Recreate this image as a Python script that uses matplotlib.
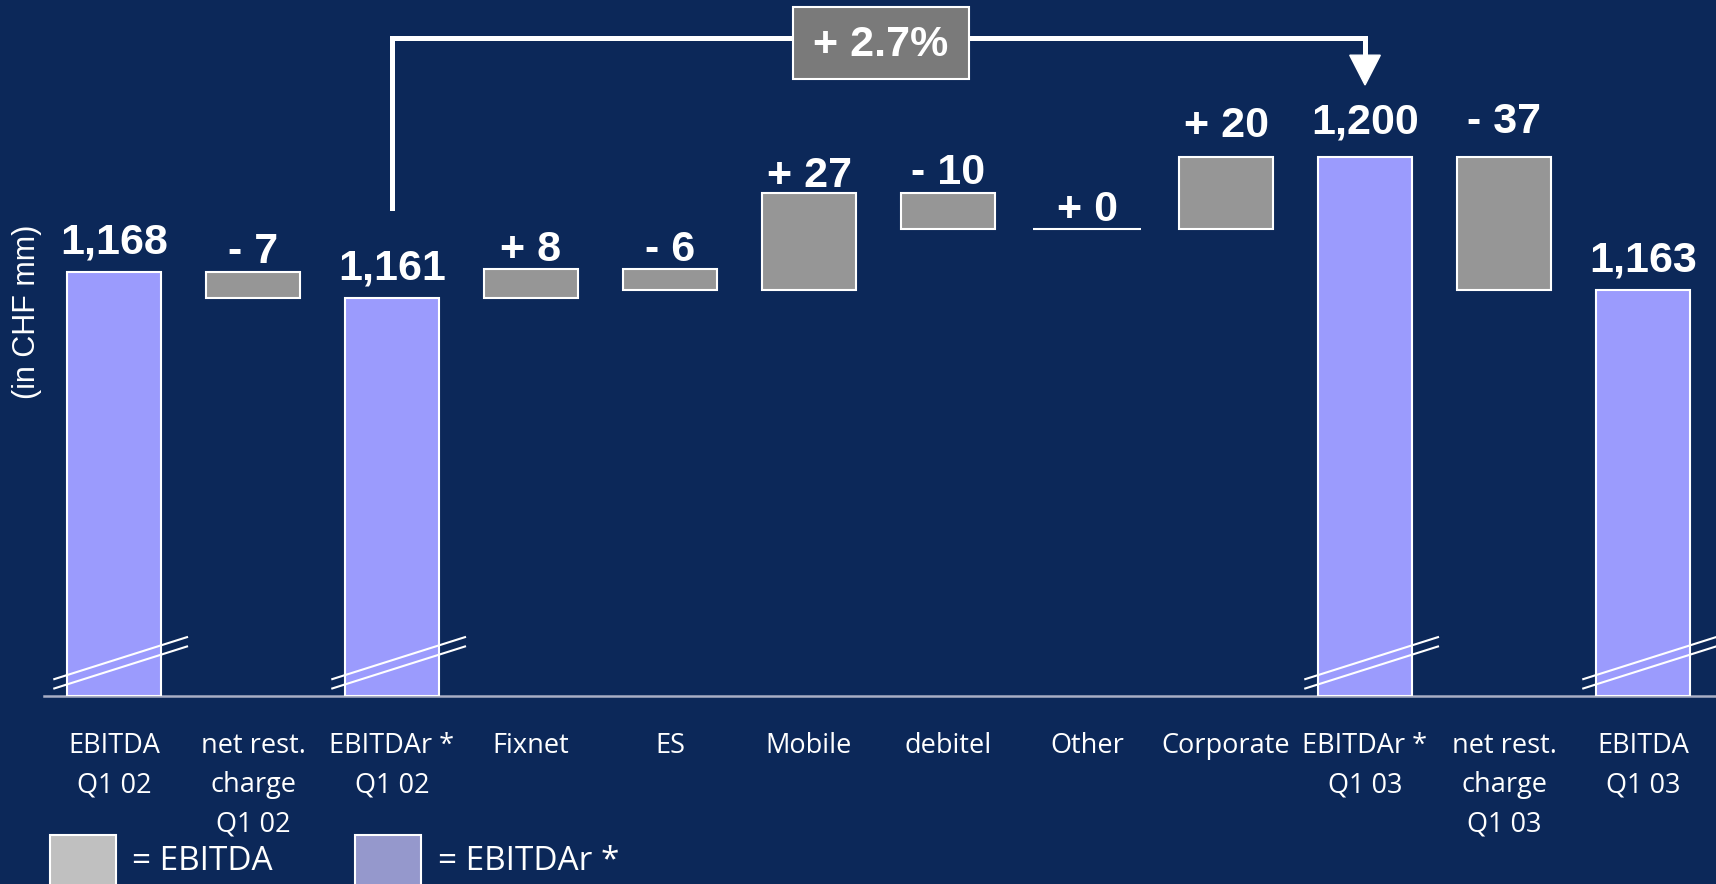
import numpy as np
import matplotlib
matplotlib.use('Agg')
import matplotlib.pyplot as plt
from matplotlib.patches import Rectangle, Polygon
from matplotlib import font_manager

# data of the waterfall (in CHF mm)
categories = ['EBITDA\nQ1 02', 'net rest.\ncharge\nQ1 02', 'EBITDAr *\nQ1 02', 'Fixnet', 'ES',
              'Mobile', 'debitel', 'Other', 'Corporate', 'EBITDAr *\nQ1 03',
              'net rest.\ncharge\nQ1 03', 'EBITDA\nQ1 03']
kinds = ['total', 'delta', 'total', 'delta', 'delta', 'delta', 'delta', 'delta', 'delta',
         'total', 'delta', 'total']
values = [1168, -7, 1161, 8, -6, 27, -10, 0, 20, 1200, -37, 1163]
growth_label = '+ 2.7%'
legend_labels = ['= EBITDA', '= EBITDAr *']

# style
bg = '#0c2859'
total_color = '#9b9bfd'
delta_color = '#969696'
box_color = '#7a7a7a'
axis_color = '#a9aec4'
y_floor = 1050          # broken axis: bars start here
label_pad_px = [19, 9, 18, 8, 8, 6, 9, 8, 20, 24, 24, 19]

names = {f.name for f in font_manager.fontManager.ttflist}
if 'Liberation Sans Narrow' in names:
    cat_font, cat_size, leg_size, cat_ls = 'Liberation Sans Narrow', 23, 26, 1.15
else:
    cat_font, cat_size, leg_size, cat_ls = 'Open Sans', 19.5, 24, 1.53

fig = plt.figure( figsize = ( 17.16, 8.84 ), dpi = 100 )
fig.patch.set_facecolor( bg )
ax = fig.add_axes( [ 44 / 1716, 188 / 884, 1672 / 1716, 696 / 884 ] )
ax.set_facecolor( bg )
ax.set_xlim( -0.504, 11.525 )
ax.set_ylim( y_floor, y_floor + 696 / 3.59 )

# waterfall bars
x = np.arange( len( values ) )
running = 0
bottoms, heights = [], []
for k, v in zip( kinds, values ):
    if k == 'total':
        bottoms.append( y_floor )
        heights.append( v - y_floor )
        running = v
    else:
        bottoms.append( min( running, running + v ) )
        heights.append( abs( v ) )
        running = running + v
bottoms = np.array( bottoms )
heights = np.array( heights )
colors = [ total_color if k == 'total' else delta_color for k in kinds ]

for i in range( len( values ) ):
    if heights[ i ] == 0:
        ax.hlines( bottoms[ i ], x[ i ] - 0.39, x[ i ] + 0.39, color = 'white', lw = 1.5, zorder = 3 )
    else:
        ax.bar( x[ i ], heights[ i ], bottom = bottoms[ i ], width = 0.67, color = colors[ i ],
                edgecolor = 'white', linewidth = 1.5, zorder = 3 )

# value labels
for i, ( k, v ) in enumerate( zip( kinds, values ) ):
    top = bottoms[ i ] + heights[ i ]
    if k == 'total':
        txt = f'{v:,}'
    else:
        txt = ( '+ ' if v >= 0 else '- ' ) + str( abs( v ) )
    ax.annotate( txt, ( x[ i ], top ), xytext = ( 0, label_pad_px[ i ] * 0.72 ),
                 textcoords = 'offset points', ha = 'center', va = 'baseline',
                 color = 'white', fontsize = 31, fontweight = 'bold',
                 family = 'Liberation Sans', zorder = 5 )

# axis break marks on the total bars
for i, k in enumerate( kinds ):
    if k == 'total':
        for dy in ( 0, -2.6 ):
            ax.plot( [ x[ i ] - 0.43, x[ i ] + 0.525 ], [ 1054.7 + dy, 1066.4 + dy ],
                     color = 'white', lw = 1.5, zorder = 4, clip_on = False )

# growth arrow from EBITDAr Q1 02 to EBITDAr Q1 03
i0, i1 = 2, 9
ax.plot( [ i0, i0, i1, i1 ], [ 1186, 1233.3, 1233.3, 1228 ], color = 'white', lw = 3.6,
         solid_joinstyle = 'miter', zorder = 5, clip_on = False )
ax.add_patch( Polygon( [ ( i1 - 0.11, 1228.5 ), ( i1 + 0.11, 1228.5 ), ( i1, 1220.2 ) ],
                       closed = True, color = 'white', zorder = 5 ) )
fig.patches.append( Rectangle( ( 793 / 1716, 1 - 79 / 884 ), 176 / 1716, 72 / 884,
                               facecolor = box_color, edgecolor = 'white', lw = 1.5,
                               transform = fig.transFigure, zorder = 6 ) )
fig.text( 881 / 1716, 1 - 45 / 884, growth_label, ha = 'center', va = 'center', color = 'white',
          fontsize = 31, fontweight = 'bold', family = 'Liberation Sans', zorder = 7 )

# axes cosmetics
for s in [ 'left', 'right', 'top' ]:
    ax.spines[ s ].set_visible( False )
ax.spines[ 'bottom' ].set_color( axis_color )
ax.spines[ 'bottom' ].set_linewidth( 1.8 )
ax.spines[ 'bottom' ].set_zorder( 2 )
ax.set_yticks( [] )
ax.set_xticks( x, categories )
ax.tick_params( axis = 'x', length = 0, pad = 26, colors = 'white' )
for lab in ax.get_xticklabels():
    lab.set_family( cat_font )
    lab.set_fontsize( cat_size )
    lab.set_linespacing( cat_ls )

fig.text( 27 / 1716, 1 - 312 / 884, '(in CHF mm)', rotation = 90, ha = 'center', va = 'center',
          color = 'white', fontsize = 22, family = 'Liberation Sans' )

# legend
fig.patches.append( Rectangle( ( 50 / 1716, -20 / 884 ), 66 / 1716, 69 / 884, facecolor = '#c0c0c0',
                               edgecolor = 'white', lw = 1.5, transform = fig.transFigure ) )
fig.patches.append( Rectangle( ( 355 / 1716, -20 / 884 ), 66 / 1716, 69 / 884, facecolor = '#9598cc',
                               edgecolor = 'white', lw = 1.5, transform = fig.transFigure ) )
fig.text( 132 / 1716, 1 - 862 / 884, legend_labels[ 0 ], ha = 'left', va = 'center', color = 'white',
          fontsize = leg_size, family = cat_font )
fig.text( 438 / 1716, 1 - 862 / 884, legend_labels[ 1 ], ha = 'left', va = 'center', color = 'white',
          fontsize = leg_size, family = cat_font )

fig.savefig( 'out.png', dpi = 100, facecolor = bg )
